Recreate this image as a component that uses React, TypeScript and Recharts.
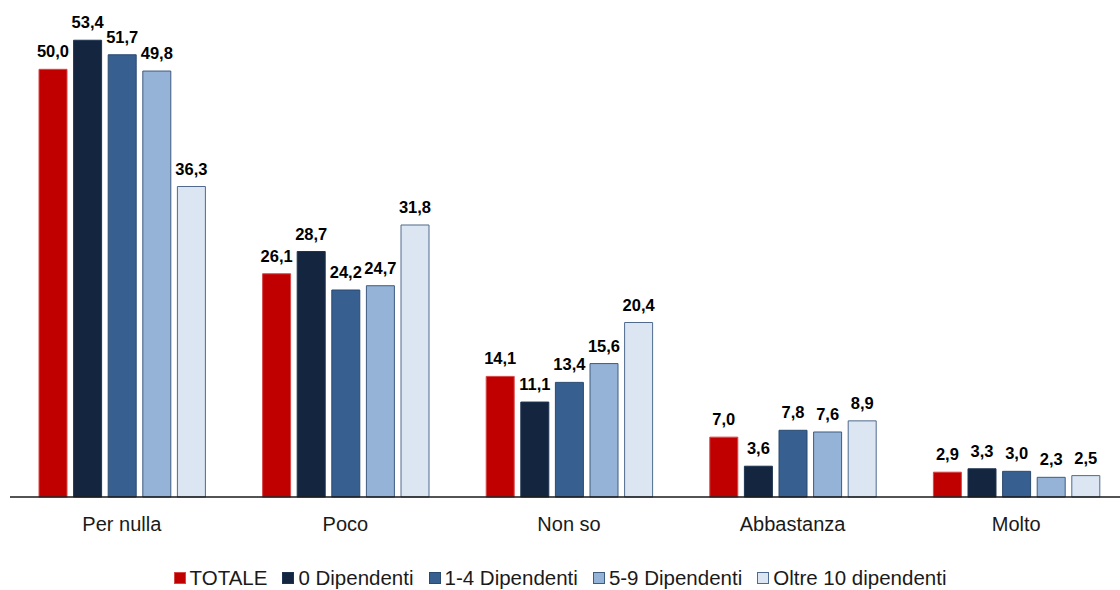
import React from "react";
import { BarChart, Bar, XAxis, YAxis, LabelList, Legend } from "recharts";

const categories = ["Per nulla", "Poco", "Non so", "Abbastanza", "Molto"];
const totale = [50.0, 26.1, 14.1, 7.0, 2.9];
const dip0 = [53.4, 28.7, 11.1, 3.6, 3.3];
const dip1_4 = [51.7, 24.2, 13.4, 7.8, 3.0];
const dip5_9 = [49.8, 24.7, 15.6, 7.6, 2.3];
const dipOltre10 = [36.3, 31.8, 20.4, 8.9, 2.5];

const seriesNames = ["TOTALE", "0 Dipendenti", "1-4 Dipendenti", "5-9 Dipendenti", "Oltre 10 dipendenti"];
const seriesKeys = ["totale", "dip0", "dip1_4", "dip5_9", "dipOltre10"];
const fills = ["#C00000", "#14263F", "#375F8F", "#95B3D7", "#DCE6F2"];
const strokes = ["#D64848", "#1E3350", "#2A4A70", "#3E5B80", "#4F6A8C"];

const data = categories.map((c, i) => ({
  name: c,
  totale: totale[i],
  dip0: dip0[i],
  dip1_4: dip1_4[i],
  dip5_9: dip5_9[i],
  dipOltre10: dipOltre10[i],
}));

const FONT = "'Liberation Sans', Arial, sans-serif";
const fmt = (v: any) => Number(v).toFixed(1).replace(".", ",");

const LegendContent = () => (
  <div
    style={{
      height: 24,
      display: "flex",
      justifyContent: "center",
      alignItems: "center",
      fontFamily: FONT,
      fontSize: 20.5,
      color: "#1a1a1a",
      whiteSpace: "nowrap",
    }}
  >
    {seriesNames.map((n, i) => (
      <div key={n} style={{ display: "flex", alignItems: "center", marginRight: i < seriesNames.length - 1 ? 15 : 0 }}>
        <span
          style={{
            display: "inline-block",
            width: 10,
            height: 10,
            background: fills[i],
            border: `1px solid ${strokes[i]}`,
            marginRight: 4,
          }}
        />
        <span>{n}</span>
      </div>
    ))}
  </div>
);

export default function App() {
  return (
    <div style={{ position: "absolute", left: 0, top: 0, width: 1120, height: 590, overflow: "hidden", background: "#fff" }}>
      <BarChart
        width={1130}
        height={590}
        data={data}
        margin={{ top: 18, right: 2, left: 10, bottom: 0 }}
        barSize={28}
        barGap={6.6}
      >
        <XAxis
          dataKey="name"
          tickLine={false}
          tickSize={0}
          tickMargin={20}
          height={69}
          axisLine={{ stroke: "#1a1a1a", strokeWidth: 1.3 }}
          tick={{ fill: "#1a1a1a", fontSize: 20, fontFamily: FONT }}
          interval={0}
        />
        <YAxis hide domain={[0, 56]} />
        <Legend
          verticalAlign="bottom"
          content={() => <LegendContent />}
          wrapperStyle={{ left: 0, width: 1120 }}
        />
        {seriesKeys.map((k, i) => (
          <Bar
            key={k}
            dataKey={k}
            name={seriesNames[i]}
            fill={fills[i]}
            stroke={strokes[i]}
            strokeWidth={1}
            isAnimationActive={false}
          >
            <LabelList
              dataKey={k}
              position="top"
              offset={12}
              formatter={fmt}
              style={{ fill: "#000", fontSize: 16.5, fontWeight: 700, fontFamily: FONT }}
            />
          </Bar>
        ))}
      </BarChart>
    </div>
  );
}
